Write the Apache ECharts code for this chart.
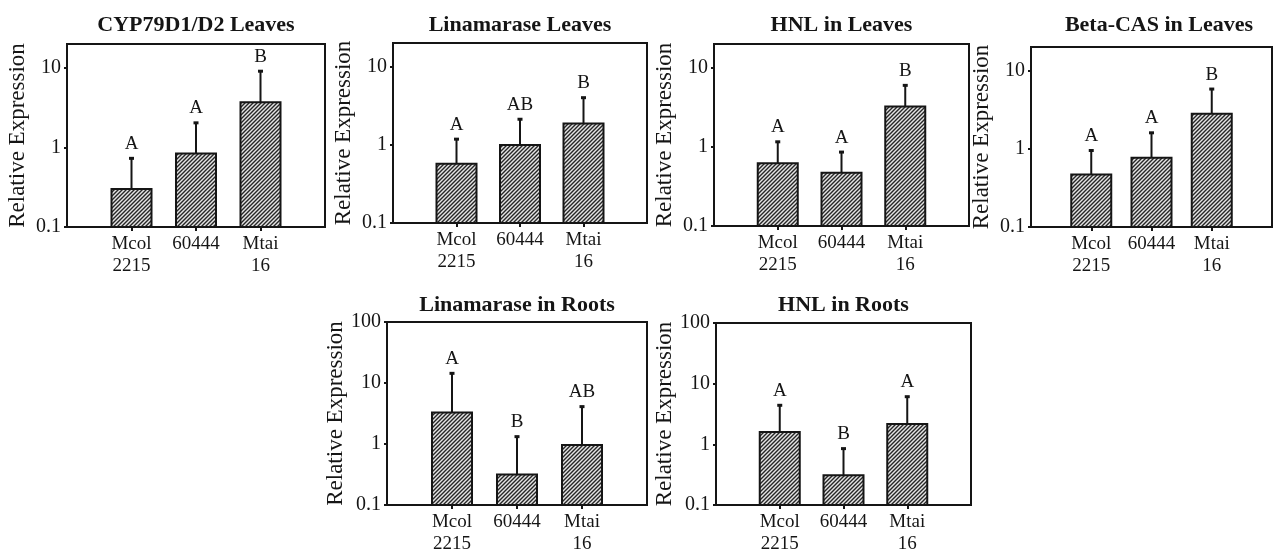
<!DOCTYPE html>
<html>
<head>
<meta charset="utf-8">
<script src="https://cdn.jsdelivr.net/npm/echarts@6/dist/echarts.min.js"></script>
<style>
html,body{margin:0;padding:0;background:#fff;}
#c{width:1275px;height:555px;}
</style>
</head>
<body>
<div id="c"></div>
<script>
// ---- data ----
const categories = ['Mcol\n2215', '60444', 'Mtai\n16'];
const titles = ['CYP79D1/D2 Leaves', 'Linamarase Leaves', 'HNL in Leaves', 'Beta-CAS in Leaves', 'Linamarase in Roots', 'HNL in Roots'];
const yTicksLeaves = [0.1, 1, 10];
const yTicksRoots = [0.1, 1, 10, 100];

const cypMean = [0.30, 0.84, 3.7];
const cypUpper = [0.73, 2.04, 9.1];
const cypLetters = ['A', 'A', 'B'];

const linLeafMean = [0.57, 0.99, 1.87];
const linLeafUpper = [1.18, 2.12, 4.0];
const linLeafLetters = ['A', 'AB', 'B'];

const hnlLeafMean = [0.62, 0.47, 3.24];
const hnlLeafUpper = [1.16, 0.86, 6.0];
const hnlLeafLetters = ['A', 'A', 'B'];

const casMean = [0.47, 0.77, 2.8];
const casUpper = [0.95, 1.6, 5.8];
const casLetters = ['A', 'A', 'B'];

const linRootMean = [3.27, 0.315, 0.96];
const linRootUpper = [14.4, 1.32, 4.1];
const linRootLetters = ['A', 'B', 'AB'];

const hnlRootMean = [1.59, 0.31, 2.16];
const hnlRootUpper = [4.4, 0.85, 6.1];
const hnlRootLetters = ['A', 'B', 'A'];

// ---- layout ----
const panels = [
  {mean: cypMean, upper: cypUpper, letters: cypLetters, ticks: yTicksLeaves, max: 20, left: 67, top: 44, width: 258, height: 183, titleTop: 14},
  {mean: linLeafMean, upper: linLeafUpper, letters: linLeafLetters, ticks: yTicksLeaves, max: 20, left: 393, top: 43, width: 254, height: 180, titleTop: 14},
  {mean: hnlLeafMean, upper: hnlLeafUpper, letters: hnlLeafLetters, ticks: yTicksLeaves, max: 20, left: 714, top: 44, width: 255, height: 182, titleTop: 14},
  {mean: casMean, upper: casUpper, letters: casLetters, ticks: yTicksLeaves, max: 20, left: 1031, top: 47, width: 256, height: 180, titleTop: 14},
  {mean: linRootMean, upper: linRootUpper, letters: linRootLetters, ticks: yTicksRoots, max: 100, left: 387, top: 322, width: 260, height: 185, titleTop: 294},
  {mean: hnlRootMean, upper: hnlRootUpper, letters: hnlRootLetters, ticks: yTicksRoots, max: 100, left: 716, top: 323, width: 255, height: 184, titleTop: 294}
];

const FONT = 'Liberation Serif';
const INK = '#151515';
const BAR_W = 40;

function makeHatch() {
  const c = document.createElement('canvas');
  c.width = 4; c.height = 4;
  const g = c.getContext('2d');
  g.fillStyle = '#e4e4e4';
  g.fillRect(0, 0, 4, 4);
  g.strokeStyle = '#262626';
  g.lineWidth = 1.4;
  g.beginPath();
  g.moveTo(0, 4); g.lineTo(4, 0);
  g.moveTo(-1, 1); g.lineTo(1, -1);
  g.moveTo(3, 5); g.lineTo(5, 3);
  g.stroke();
  return c;
}
const hatch = makeHatch();

const axisData = [''].concat(categories).concat(['']);

const option = {
  backgroundColor: '#ffffff',
  animation: false,
  title: [], grid: [], xAxis: [], yAxis: [], series: []
};

panels.forEach((p, i) => {
  option.title.push({
    text: titles[i],
    left: p.left + p.width / 2,
    top: p.titleTop,
    textAlign: 'center',
    padding: 0,
    textStyle: {fontFamily: FONT, fontWeight: 'bold', fontSize: 22, color: INK}
  });
  option.grid.push({
    left: p.left, top: p.top, width: p.width, height: p.height,
    show: true, borderColor: INK, borderWidth: 2, backgroundColor: 'transparent',
    containLabel: false
  });
  option.xAxis.push({
    type: 'category', gridIndex: i, data: axisData, boundaryGap: false,
    axisLine: {show: true, lineStyle: {color: INK, width: 2}},
    axisTick: {show: true, length: 4, lineStyle: {color: INK, width: 2},
      interval: (idx) => idx >= 1 && idx <= 3},
    axisLabel: {show: true, interval: 0, margin: 6, fontFamily: FONT, fontSize: 19,
      color: INK, lineHeight: 22},
    splitLine: {show: false}
  });
  option.yAxis.push({
    type: 'log', logBase: 10, gridIndex: i, min: 0.1, max: p.max,
    name: 'Relative Expression', nameLocation: 'middle', nameGap: 38, nameRotate: 90,
    nameTextStyle: {fontFamily: FONT, fontSize: 23, color: INK},
    axisLine: {show: true, lineStyle: {color: INK, width: 2}},
    axisTick: {show: true, length: 3, lineStyle: {color: INK, width: 2}, customValues: p.ticks},
    axisLabel: {show: true, margin: 6, fontFamily: FONT, fontSize: 20, color: INK,
      customValues: p.ticks, formatter: (v) => String(v)},
    splitLine: {show: false}
  });
  option.series.push({
    type: 'custom', xAxisIndex: i, yAxisIndex: i, clip: false, z: 3,
    data: p.mean.map((v, k) => [k + 1, v, p.upper[k]]),
    renderItem: (params, api) => {
      const x = api.value(0);
      const base = api.coord([x, 0.1]);
      const lo = api.coord([x, api.value(1)]);
      const hi = api.coord([x, api.value(2)]);
      const letter = p.letters[params.dataIndex];
      return {
        type: 'group',
        children: [
          {type: 'line', shape: {x1: lo[0], y1: lo[1], x2: hi[0], y2: hi[1]},
            style: {stroke: INK, lineWidth: 2}},
          {type: 'rect', shape: {x: lo[0] - BAR_W / 2, y: lo[1], width: BAR_W, height: base[1] - lo[1]},
            style: {fill: {image: hatch, repeat: 'repeat'}, stroke: INK, lineWidth: 2}},
          {type: 'rect', shape: {x: hi[0] - 2.5, y: hi[1] - 1.5, width: 5, height: 3},
            style: {fill: INK}},
          {type: 'text', style: {text: letter, x: hi[0], y: hi[1] - 5,
            align: 'center', verticalAlign: 'bottom',
            font: '19px "Liberation Serif"', fill: INK}}
        ]
      };
    }
  });
});

const chart = echarts.init(document.getElementById('c'), null, {renderer: 'canvas'});
chart.setOption(option);
</script>
</body>
</html>
